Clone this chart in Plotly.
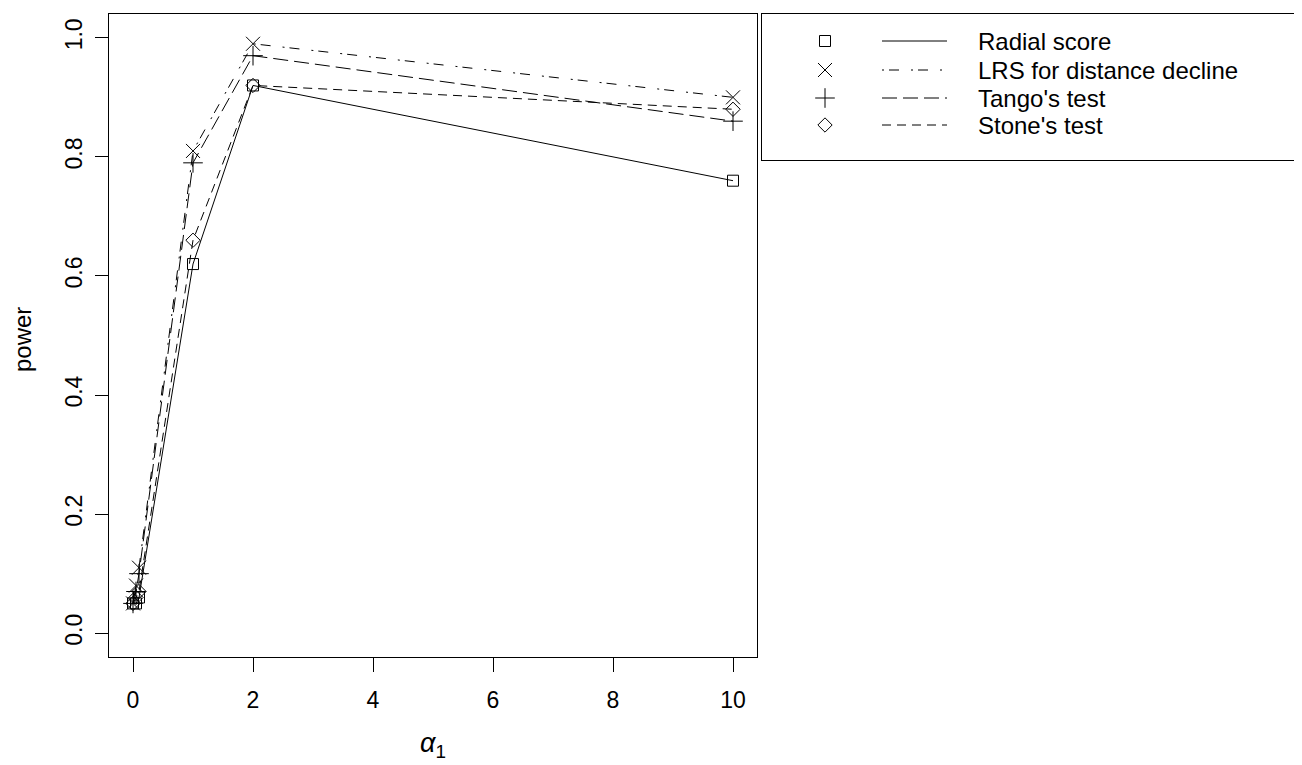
import plotly.graph_objects as go

# ---- data ----
alpha1 = [0, 0.05, 0.1, 1, 2, 10]
radial = [0.05, 0.05, 0.06, 0.62, 0.92, 0.76]
lrs = [0.05, 0.08, 0.11, 0.81, 0.99, 0.90]
tango = [0.05, 0.07, 0.10, 0.79, 0.97, 0.86]
stone = [0.05, 0.06, 0.07, 0.66, 0.92, 0.88]

names = ["Radial score", "LRS for distance decline", "Tango's test", "Stone's test"]
series = [radial, lrs, tango, stone]
symbols = ["square-open", "x-thin-open", "cross-thin-open", "diamond-open"]
msizes = [11, 14, 14, 11]
dashes = ["solid", "2px,5px,10px,12px", "15px,6px", "9px,6px"]

xticks = [0, 2, 4, 6, 8, 10]
yticks = [0.0, 0.2, 0.4, 0.6, 0.8, 1.0]
yticklabels = ["0.0", "0.2", "0.4", "0.6", "0.8", "1.0"]

# The page body has an 8px margin, so layout is expressed in window pixels minus 8.
OFF = 8
W, H = 1302 - OFF, 765 - OFF
def fx(px):
    return (px - OFF) / W
def fy(py):
    return 1 - (py - OFF) / H

FONT = "Liberation Sans, Arial, sans-serif"

fig = go.Figure()
for nm, ys, sym, ms, ds in zip(names, series, symbols, msizes, dashes):
    fig.add_trace(go.Scatter(
        x=alpha1, y=ys, mode="lines+markers", name=nm, showlegend=False,
        line=dict(color="black", width=1, dash=ds),
        marker=dict(symbol=sym, size=ms, color="black", line=dict(color="black", width=1)),
        xaxis="x", yaxis="y"))

# ---- hand-made R-style legend on its own axes (pixel units inside the box) ----
LX0, LX1, LY0, LY1 = 762, 1300, 14, 160
row_y = [27, 56, 84, 111]          # offsets from the legend top
sym_x, line_x0, line_x1, text_x = 63, 120, 185, 214
for i, (nm, sym, ms, ds) in enumerate(zip(names, symbols, msizes, dashes)):
    fig.add_trace(go.Scatter(x=[sym_x], y=[row_y[i]], mode="markers", showlegend=False,
                             marker=dict(symbol=sym, size=ms, color="black", line=dict(color="black", width=1)),
                             xaxis="x2", yaxis="y2", hoverinfo="skip"))
    fig.add_trace(go.Scatter(x=[line_x0, line_x1], y=[row_y[i], row_y[i]], mode="lines", showlegend=False,
                             line=dict(color="black", width=1, dash=ds),
                             xaxis="x2", yaxis="y2", hoverinfo="skip"))
    fig.add_annotation(x=text_x, y=row_y[i], xref="x2", yref="y2", text=nm, showarrow=False,
                       xanchor="left", yanchor="middle", font=dict(size=24, color="black", family=FONT))

fig.update_layout(
    width=W, height=H,
    margin=dict(l=0, r=0, t=0, b=0),
    paper_bgcolor="white", plot_bgcolor="white",
    font=dict(family=FONT, size=21, color="black"),
    xaxis=dict(domain=[fx(109), fx(757)], range=[-0.4, 10.4], tickvals=xticks,
               ticks="outside", ticklen=14, tickcolor="black", showline=True, mirror=True,
               linecolor="black", linewidth=1, showgrid=False, zeroline=False,
               ticklabelstandoff=8, tickfont=dict(size=23, family=FONT)),
    yaxis=dict(domain=[fy(657), fy(14)], range=[-0.04, 1.04], tickvals=yticks,
               ticktext=yticklabels, tickangle=-90,
               ticks="outside", ticklen=13, tickcolor="black", showline=True, mirror=True,
               linecolor="black", linewidth=1, showgrid=False, zeroline=False,
               ticklabelstandoff=4, tickfont=dict(size=23, family=FONT)),
    xaxis2=dict(domain=[fx(LX0), fx(LX1)], range=[0, LX1 - LX0], anchor="y2",
                showline=True, mirror=True, linecolor="black", linewidth=1,
                showgrid=False, zeroline=False, showticklabels=False, ticks=""),
    yaxis2=dict(domain=[fy(LY1), fy(LY0)], range=[LY1 - LY0, 0], anchor="x2",
                showline=True, mirror=True, linecolor="black", linewidth=1,
                showgrid=False, zeroline=False, showticklabels=False, ticks=""),
)

fig.add_annotation(x=fx(22), y=fy(340), xref="paper", yref="paper", text="power",
                   xanchor="center", yanchor="middle",
                   showarrow=False, textangle=-90, font=dict(size=24, family=FONT))
fig.add_annotation(x=fx(433), y=fy(745), xref="paper", yref="paper",
                   xanchor="center", yanchor="middle",
                   text="<i>α</i><sub>1</sub>", showarrow=False, font=dict(size=27, family=FONT))

fig.write_html("out.html")
